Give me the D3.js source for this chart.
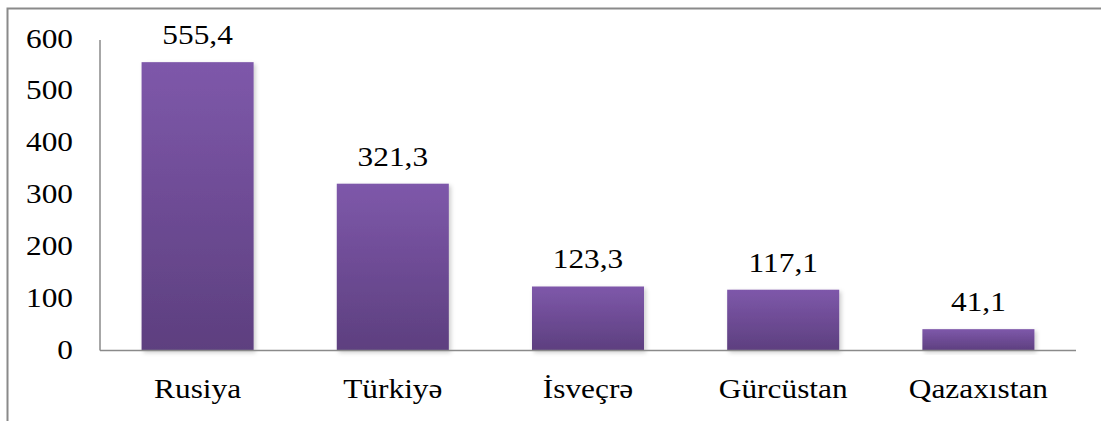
<!DOCTYPE html>
<html lang="az">
<head>
<meta charset="utf-8">
<title>Bar chart</title>
<style>
  body { margin: 0; background: #fff; }
</style>
</head>
<body>
<svg id="chart" width="1101" height="421"></svg>
<script src="https://d3js.org/d3.v7.min.js"></script>
<script>
const countries = ["Rusiya", "Türkiyə", "İsveçrə", "Gürcüstan", "Qazaxıstan"];
const values = [555.4, 321.3, 123.3, 117.1, 41.1];
const yTicks = [0, 100, 200, 300, 400, 500, 600];

const svg = d3.select("#chart");
const plotLeft = 100, plotRight = 1076, plotTop = 39, plotBottom = 350.5;
const stretch = 1.12; // text in the original is a bit wider than it is tall
const fontSize = 28;
const fontFam = "'Liberation Serif', 'Times New Roman', serif";

// outer frame, runs off the right and bottom edge
svg.append("rect")
  .attr("x", 7.5).attr("y", 8.5)
  .attr("width", 1200).attr("height", 500)
  .attr("fill", "none")
  .attr("stroke", "#8a8a8a")
  .attr("stroke-width", 2);

const x = d3.scaleBand().domain(countries).range([plotLeft, plotRight]).paddingInner(0.426).paddingOuter(0.213);
const y = d3.scaleLinear().domain([0, 600]).range([plotBottom, plotTop]);

const defs = svg.append("defs");
const grad = defs.append("linearGradient")
  .attr("id", "barGrad").attr("x1", 0).attr("y1", 0).attr("x2", 0).attr("y2", 1);
grad.append("stop").attr("offset", "0%").attr("stop-color", "#7e58aa");
grad.append("stop").attr("offset", "100%").attr("stop-color", "#5d3f7f");

const shadow = defs.append("filter").attr("id", "shadow")
  .attr("x", "-10%").attr("y", "-10%").attr("width", "130%").attr("height", "130%");
shadow.append("feDropShadow")
  .attr("dx", 2).attr("dy", 2).attr("stdDeviation", 2)
  .attr("flood-color", "#000").attr("flood-opacity", 0.2);

// bars
svg.selectAll(".bar")
  .data(countries)
  .join("rect")
  .attr("class", "bar")
  .attr("x", d => x(d))
  .attr("y", (d, i) => y(values[i]))
  .attr("width", x.bandwidth())
  .attr("height", (d, i) => y(0) - y(values[i]))
  .attr("fill", "url(#barGrad)")
  .attr("filter", "url(#shadow)");

// axes lines
svg.append("line")
  .attr("x1", plotLeft).attr("x2", plotLeft)
  .attr("y1", plotTop + 1).attr("y2", plotBottom)
  .attr("stroke", "#8a8a8a").attr("stroke-width", 1.5);
svg.append("line")
  .attr("x1", plotLeft).attr("x2", plotRight)
  .attr("y1", plotBottom).attr("y2", plotBottom)
  .attr("stroke", "#8a8a8a").attr("stroke-width", 1.5);

function label(sel) {
  return sel.style("font-family", fontFam)
    .style("font-size", fontSize + "px")
    .style("fill", "#000");
}

// y tick labels
svg.selectAll(".ytick")
  .data(yTicks)
  .join("text")
  .attr("class", "ytick")
  .attr("transform", d => `translate(73,${y(d) + 8.5}) scale(${stretch},1)`)
  .attr("text-anchor", "end")
  .call(label)
  .text(d => d);

// value labels above bars
svg.selectAll(".vlabel")
  .data(countries)
  .join("text")
  .attr("class", "vlabel")
  .attr("transform", (d, i) => `translate(${x(d) + x.bandwidth() / 2},${y(values[i]) - 18}) scale(${stretch},1)`)
  .attr("text-anchor", "middle")
  .call(label)
  .text((d, i) => d3.format(".1f")(values[i]).replace(".", ","));

// category labels
svg.selectAll(".xlabel")
  .data(countries)
  .join("text")
  .attr("class", "xlabel")
  .attr("transform", d => `translate(${x(d) + x.bandwidth() / 2},398) scale(${stretch},1)`)
  .attr("text-anchor", "middle")
  .call(label)
  .text(d => d);
</script>
</body>
</html>
